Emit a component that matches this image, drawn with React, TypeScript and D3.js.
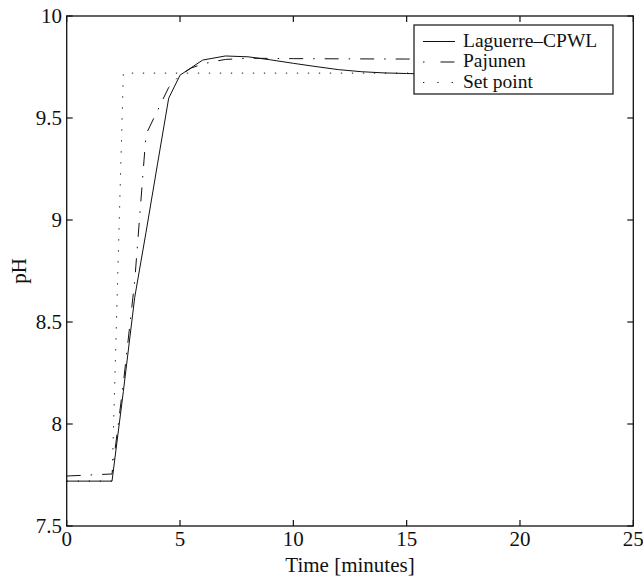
import React from 'react';
import * as d3 from 'd3';

// time samples (minutes) and responses
const lagTime = [0, 2, 2.5, 3, 3.5, 4, 4.5, 5, 6, 7, 8, 9, 10, 11, 12, 13, 14, 15, 16, 18, 20, 22, 24];
const lagPH = [7.72, 7.72, 8.16, 8.62, 8.94, 9.27, 9.597, 9.71, 9.784, 9.804, 9.8, 9.785, 9.768, 9.752, 9.737, 9.727, 9.721, 9.718, 9.716, 9.715, 9.715, 9.715, 9.715];

const pajTime = [0, 2, 2.5, 3, 3.5, 4, 4.5, 5, 5.5, 6, 6.5, 7, 8, 10, 12, 15, 18, 21, 24];
const pajPH = [7.745, 7.755, 8.2, 8.7, 9.42, 9.535, 9.65, 9.71, 9.745, 9.765, 9.777, 9.787, 9.793, 9.791, 9.79, 9.789, 9.788, 9.787, 9.787];

const spTime = [0, 2, 2.5, 24];
const spPH = [7.72, 7.72, 9.72, 9.72];

const xTicks = [0, 5, 10, 15, 20, 25];
const yTicks = [7.5, 8, 8.5, 9, 9.5, 10];

const legendNames = ['Laguerre\u2013CPWL', 'Pajunen', 'Set point'];
const dashes = [null, '14 10 1.5 10', '1.3 9.7'];
const legendDashes = [null, '1.5 16 14 10', '1.3 13'];

const W = 643;
const H = 579;
const font = '"Liberation Serif", "Times New Roman", serif';

export default function App() {
  const x = d3.scaleLinear().domain([0, 25]).range([66.7, 633.3]);
  const y = d3.scaleLinear().domain([7.5, 10]).range([526, 16]);
  const line = d3.line<[number, number]>().x(d => x(d[0])).y(d => y(d[1]));

  const series = [
    lagTime.map((t, i) => [t, lagPH[i]] as [number, number]),
    pajTime.map((t, i) => [t, pajPH[i]] as [number, number]),
    spTime.map((t, i) => [t, spPH[i]] as [number, number]),
  ];

  const [x0, x1] = x.range();
  const [yb, yt] = y.range();
  const tk = 6;

  return (
    <svg width={W} height={H} style={{ position: 'absolute', left: 0, top: 0, background: '#fff' }} fontFamily={font}>
      <rect width={W} height={H} fill="#fff" />

      {series.map((s, i) => (
        <path key={i} d={line(s) || ''} fill="none" stroke="#111" strokeWidth={1}
          strokeDasharray={dashes[i] || undefined} />
      ))}

      {/* axes box and inward ticks */}
      <rect x={x0} y={yt} width={x1 - x0} height={yb - yt} fill="none" stroke="#111" strokeWidth={1.3} />
      {xTicks.map(t => (
        <g key={'x' + t}>
          <line x1={x(t)} x2={x(t)} y1={yb} y2={yb - tk} stroke="#111" strokeWidth={1.2} />
          <line x1={x(t)} x2={x(t)} y1={yt} y2={yt + tk} stroke="#111" strokeWidth={1.2} />
          <text x={x(t)} y={yb + 20} textAnchor="middle" fontSize={21} fill="#111">{t}</text>
        </g>
      ))}
      {yTicks.map(v => (
        <g key={'y' + v}>
          <line x1={x0} x2={x0 + tk} y1={y(v)} y2={y(v)} stroke="#111" strokeWidth={1.2} />
          <line x1={x1} x2={x1 - tk} y1={y(v)} y2={y(v)} stroke="#111" strokeWidth={1.2} />
          <text x={62} y={y(v)} dy="0.34em" textAnchor="end" fontSize={21} fill="#111">{v}</text>
        </g>
      ))}

      <text x={(x0 + x1) / 2} y={572} textAnchor="middle" fontSize={21} fill="#111">Time [minutes]</text>
      <text transform={`translate(26,${(yb + yt) / 2}) rotate(-90)`} textAnchor="middle" fontSize={21} fill="#111">pH</text>

      {/* legend */}
      <rect x={414} y={25} width={199} height={69} fill="#fff" stroke="#111" strokeWidth={1.2} />
      {legendNames.map((n, i) => (
        <g key={n}>
          <line x1={423} x2={455} y1={41.5 + i * 20.5} y2={41.5 + i * 20.5} stroke="#111" strokeWidth={1}
            strokeDasharray={legendDashes[i] || undefined} />
          <text x={463} y={46.5 + i * 20.5} fontSize={19.5} fill="#111">{n}</text>
        </g>
      ))}
    </svg>
  );
}
